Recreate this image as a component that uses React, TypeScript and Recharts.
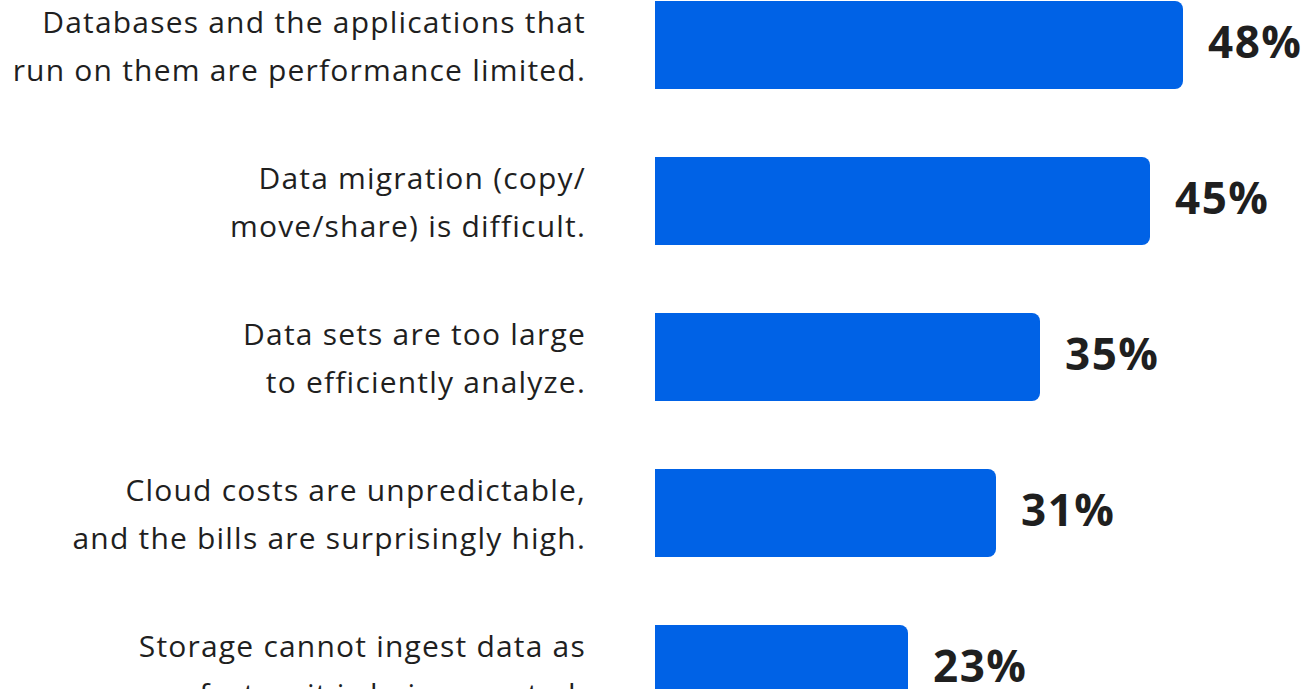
import React from 'react';
import {Bar, BarChart, LabelList, XAxis, YAxis} from 'recharts';

const categories = [
    'Databases and the applications that|run on them are performance limited.',
    'Data migration (copy/|move/share) is difficult.',
    'Data sets are too large|to efficiently analyze.',
    'Cloud costs are unpredictable,|and the bills are surprisingly high.',
    'Storage cannot ingest data as|fast as it is being created.',
];
const shares = [48, 45, 35, 31, 23];

const data = categories.map((c, i) => ({category: c, value: shares[i]}));

const colors = {
    bar: '#0062e6',
    text: '#1f1f1f',
};

const font = '"Open Sans", sans-serif';

const CategoryTick = (props: any) => {
    const {x, y, payload} = props;
    const lines = String(payload.value).split('|');
    return (
        <g>
            {lines.map((line: string, i: number) => (
                <text
                    key={i}
                    x={x}
                    y={y + (i === 0 ? -24 : 24)}
                    textAnchor="end"
                    dominantBaseline="central"
                    fill={colors.text}
                    fontSize={30}
                    letterSpacing={1.2}
                    fontFamily={font}
                >
                    {line}
                </text>
            ))}
        </g>
    );
};

export default function App() {
    return (
        <div style={{position: 'fixed', top: 0, left: 0, width: 1313, height: 689, overflow: 'hidden', background: 'white'}}>
            <div style={{marginTop: -33}}>
                <BarChart
                    width={1313}
                    height={780}
                    data={data}
                    layout="vertical"
                    margin={{top: 0, right: 108, left: 0, bottom: 0}}
                >
                    <XAxis type="number" domain={[0, 50]} hide/>
                    <YAxis
                        type="category"
                        dataKey="category"
                        width={655}
                        axisLine={false}
                        tickLine={false}
                        tickMargin={63}
                        tick={<CategoryTick/>}
                    />
                    <Bar
                        dataKey="value"
                        fill={colors.bar}
                        barSize={88}
                        radius={[0, 8, 8, 0]}
                        isAnimationActive={false}
                    >
                        <LabelList
                            dataKey="value"
                            position="right"
                            offset={25}
                            formatter={(v: any) => `${v}%`}
                            fill={colors.text}
                            fontSize={44}
                            letterSpacing={1.5}
                            fontWeight={700}
                            fontFamily={font}
                            dy={-3}
                        />
                    </Bar>
                </BarChart>
            </div>
        </div>
    );
}
